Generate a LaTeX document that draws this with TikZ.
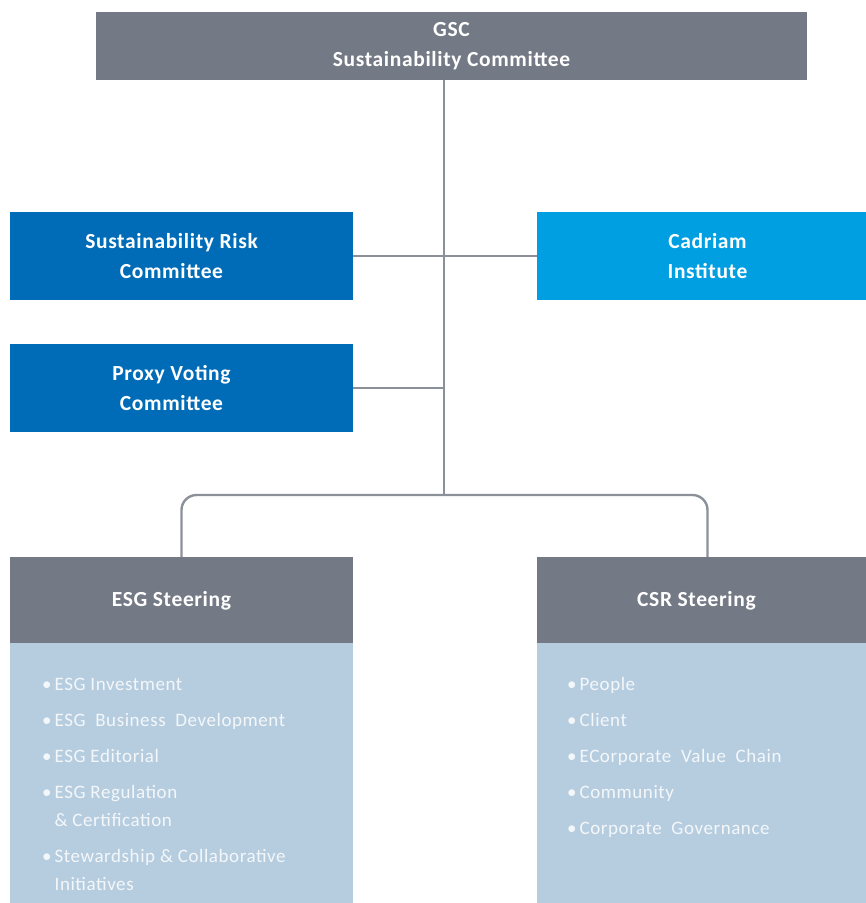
\documentclass[tikz,border=0pt]{standalone}
\usepackage{fontspec}
\setmainfont{Carlito}
\definecolor{hdrgray}{HTML}{747A85}
\definecolor{darkblue}{HTML}{006CB7}
\definecolor{lightblue}{HTML}{009FE2}
\definecolor{bodyblue}{HTML}{B6CDE0}
\definecolor{linegray}{HTML}{8C9199}
\definecolor{listwhite}{HTML}{F4F7FA}
\tikzset{
  box/.style={rectangle, inner sep=0pt, text=white, align=center,
    font=\fontsize{21.5}{30}\selectfont\bfseries\addfontfeatures{LetterSpace=3}},
  listtext/.style={inner sep=0pt, anchor=north west, align=left, text=listwhite,
    font=\fontsize{19}{28}\selectfont\addfontfeatures{LetterSpace=3}},
  conn/.style={draw=linegray, line width=2.4pt},
}
\newcommand{\bul}{\textbullet\hspace{3pt}}
\newcommand{\hang}{\phantom{\textbullet\hspace{3pt}}}
\newcommand{\shiftleft}{\hspace*{-20pt}}
\begin{document}
\begin{tikzpicture}[x=1pt,y=-1pt]
\useasboundingbox (0,0) rectangle (866,903);
% boxes
\node[box, fill=hdrgray, minimum width=711pt, minimum height=68pt] (gsc) at (451.5,46) {GSC\\Sustainability Committee};
\node[box, fill=darkblue, minimum width=343pt, minimum height=88pt] (src) at (181.5,256) {\shiftleft Sustainability Risk\\\shiftleft Committee};
\node[box, fill=lightblue, minimum width=329pt, minimum height=88pt] (cad) at (701.5,256) {\hspace*{12pt}Cadriam\\\hspace*{12pt}Institute};
\node[box, fill=darkblue, minimum width=343pt, minimum height=88pt] (proxy) at (181.5,388) {\shiftleft Proxy Voting\\\shiftleft Committee};
\node[box, fill=hdrgray, minimum width=343pt, minimum height=88pt] (esgh) at (181.5,601) {\shiftleft ESG Steering};
\node[box, fill=bodyblue, minimum width=343pt, minimum height=260pt, anchor=north] (esgb) at (181.5,643) {};
\node[box, fill=hdrgray, minimum width=329pt, minimum height=88pt] (csrh) at (701.5,601) {\hspace*{-10pt}CSR Steering};
\node[box, fill=bodyblue, minimum width=329pt, minimum height=260pt, anchor=north] (csrb) at (701.5,643) {};
% lists
\node[listtext] (esglist) at (42,678) {\bul ESG Investment\\[8pt]
\bul ESG\ \ Business\ \ Development\\[8pt]
\bul ESG\ Editorial\\[8pt]
\bul ESG Regulation\\
\hang\&\ Certification\\[8pt]
\bul Stewardship \&\ Collaborative\\
\hang Initiatives};
\node[listtext] (csrlist) at (567,677) {\bul People\\[8pt]
\bul Client\\[8pt]
\bul ECorporate\ \ Value\ \ Chain\\[8pt]
\bul Community\\[8pt]
\bul Corporate\ \ Governance};
% connectors
\coordinate (junc) at (444,495);
\draw[conn] (444,80) -- (junc);
\draw[conn] (src.east) -- (cad.west);
\draw[conn] (proxy.east) -- (proxy.east -| junc);
\draw[conn, rounded corners=15pt] (esgh.north) |- (junc) -| ([xshift=6pt]csrh.north);
\end{tikzpicture}
\end{document}
